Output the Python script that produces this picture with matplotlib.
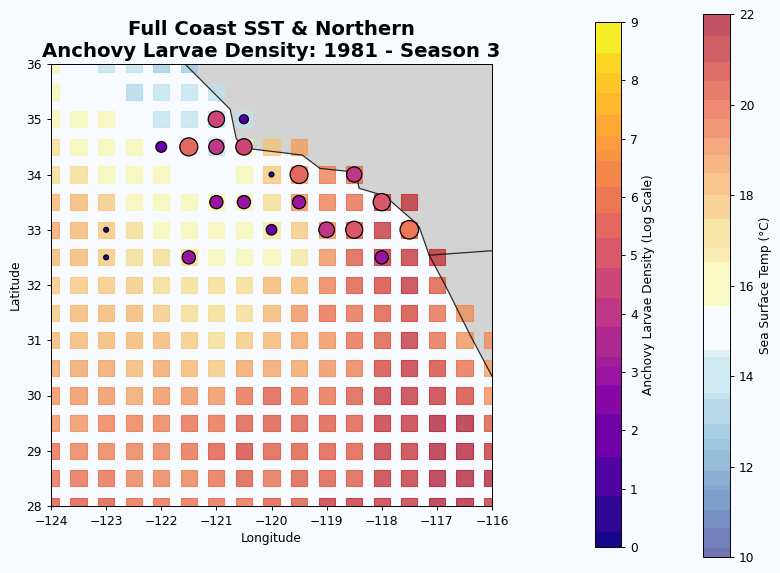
import numpy as np
from matplotlib import pyplot as plt
from matplotlib.colors import BoundaryNorm, ListedColormap

plt.rcParams['font.size'] = 8.8
plt.rcParams['axes.linewidth'] = 0.7
plt.rcParams['xtick.major.size'] = 3
plt.rcParams['ytick.major.size'] = 3
plt.rcParams['xtick.major.width'] = 0.7
plt.rcParams['ytick.major.width'] = 0.7

# grid of the survey, one cell every half degree
lons = np.arange(-124, -115.5, 0.5)
lats = np.arange(36, 27.5, -0.5)
nan = np.nan

# sea surface temperature, north to south, west to east, nan over land
sst = [
    [16.0, 15.0, 14.0, 13.8, 13.3, 13.4, nan, nan, nan, nan, nan, nan, nan, nan, nan, nan, nan],
    [16.3, 15.0, 15.0, 13.6, 13.7, 13.9, 14.2, nan, nan, nan, nan, nan, nan, nan, nan, nan, nan],
    [16.2, 16.2, 16.2, 15.0, 14.4, 14.0, 14.2, 14.2, nan, nan, nan, nan, nan, nan, nan, nan, nan],
    [17.0, 16.5, 16.3, 16.2, 15.0, 15.0, 14.3, 16.5, 17.5, 18.5, nan, nan, nan, nan, nan, nan, nan],
    [17.4, 17.4, 16.4, 16.2, 16.1, 15.0, 15.0, 16.2, 17.8, 18.8, 19.3, 19.8, nan, nan, nan, nan, nan],
    [18.0, 18.0, 17.6, 16.5, 16.3, 16.2, 16.2, 16.2, 17.2, 19.0, 19.4, 20.0, 21.0, 21.2, nan, nan, nan],
    [18.5, 18.4, 17.5, 17.0, 16.4, 16.3, 16.2, 16.2, 16.8, 17.5, 19.0, 20.5, 21.0, 20.3, nan, nan, nan],
    [18.3, 18.0, 17.6, 17.3, 17.0, 17.0, 16.5, 16.2, 16.2, 16.8, 19.0, 20.3, 21.0, 21.3, 21.2, nan, nan],
    [17.9, 17.5, 17.5, 17.6, 17.3, 17.3, 17.2, 17.2, 18.0, 18.3, 19.6, 20.3, 20.8, 21.0, 20.3, nan, nan],
    [17.9, 18.2, 18.2, 18.2, 17.9, 17.2, 17.0, 17.2, 18.2, 19.0, 19.8, 20.0, 20.3, 20.8, 19.8, 19.2, nan],
    [18.3, 18.3, 18.3, 18.3, 18.0, 17.8, 17.0, 17.8, 18.2, 18.8, 19.2, 19.7, 20.5, 21.2, 19.9, 19.2, 19.0],
    [18.8, 18.8, 18.8, 18.2, 18.5, 18.0, 17.8, 18.5, 18.7, 18.7, 18.9, 19.5, 20.9, 21.5, 20.8, 19.8, 18.8],
    [19.0, 19.0, 19.0, 18.8, 19.0, 19.0, 18.9, 19.8, 20.1, 20.0, 19.7, 20.2, 21.0, 21.5, 21.2, 20.7, 19.2],
    [19.2, 19.2, 19.3, 19.3, 19.4, 19.7, 19.9, 20.3, 20.5, 20.3, 20.2, 20.1, 21.0, 21.5, 22.0, 21.6, 20.4],
    [20.0, 19.4, 19.5, 19.3, 19.5, 19.8, 20.2, 20.6, 20.4, 20.3, 20.2, 20.4, 21.1, 21.4, 22.0, 22.0, 21.2],
    [20.0, 19.9, 19.9, 19.5, 19.5, 19.6, 19.9, 20.2, 19.8, 20.2, 20.4, 20.5, 21.0, 21.4, 22.0, 22.0, 21.8],
    [20.3, 20.4, 20.2, 20.0, 19.8, 19.7, 20.0, 20.0, 20.3, 20.3, 21.0, 21.0, 21.2, 21.3, 21.7, 22.0, 21.4],
]

# larvae stations
larvae_lon = [-121, -120.5, -122, -121.5, -121, -120.5, -120, -119.5, -118.5, -121, -120.5, -119.5,
              -118, -123, -120, -119, -118.5, -117.5, -123, -121.5, -118]
larvae_lat = [35, 35, 34.5, 34.5, 34.5, 34.5, 34, 34, 34, 33.5, 33.5, 33.5,
              33.5, 33, 33, 33, 33, 33, 32.5, 32.5, 32.5]
larvae_density = [4.6, 1.4, 2.0, 5.6, 4.0, 4.6, 0.4, 5.6, 4.0, 3.0, 3.0, 3.0,
                  5.1, 0.4, 1.9, 4.2, 5.0, 5.9, 0.4, 3.0, 3.0]

# coastline and the border running inland
coast_lon = [-121.57, -120.75, -120.64, -120.5, -120.35, -119.84, -119.44, -119.12, -118.45, -118.43,
             -118.41, -117.97, -117.85, -117.39, -117.32, -117.14, -116.85, -116.4, -116.0]
coast_lat = [36.0, 35.18, 34.65, 34.5, 34.46, 34.4, 34.35, 34.11, 34.04, 33.84,
             33.75, 33.62, 33.53, 33.13, 33.05, 32.54, 32.0, 31.1, 30.35]
border_lon = [-117.14, -116.0]
border_lat = [32.54, 32.62]

# colour steps of the two scales
sst_levels = [10, 10.2, 10.63, 11.04, 11.48, 11.6, 11.9, 12.37, 12.6, 12.95, 13.5, 13.62, 14.43, 14.58,
              15.55, 16.53, 16.82, 17.48, 18.0, 18.48, 18.88, 19.27, 19.68, 20.1, 20.53, 20.95, 21.51, 22]
density_levels = [0, 0.25, 0.87, 1.55, 2.28, 2.78, 3.09, 3.26, 3.78, 4.27, 4.78, 5.29, 5.73, 6.18,
                  6.61, 6.78, 7.04, 7.41, 7.78, 8.12, 8.47, 9]

bg = '#f7fbff'


def stepped(name, levels, vmin, vmax):
    mids = (np.array(levels[:-1]) + np.array(levels[1:])) / 2
    return plt.get_cmap(name)((mids - vmin) / (vmax - vmin))


sst_colors = stepped('RdYlBu_r', sst_levels, 10, 22)
white_idx = sst_levels.index(14.58)
sst_colors[white_idx + 1:, :3] *= [0.97, 0.97, 0.9]  # warm half a little duller than the stock map
sst_colors[white_idx] = (0.97, 0.984, 1, 1)  # band around 15 fades into the background
sst_cmap = ListedColormap(sst_colors)
sst_norm = BoundaryNorm(sst_levels, len(sst_colors), clip=True)
density_cmap = ListedColormap(stepped('plasma', density_levels, 0, 9))
density_norm = BoundaryNorm(density_levels, len(density_levels) - 1, clip=True)

W, H = 780, 573
fig = plt.figure(figsize=(W / 100, H / 100), dpi=100, facecolor=bg)
ax = fig.add_axes([51 / W, 1 - 506 / H, 441 / W, 442 / H], facecolor=bg)

# land
land_lon = coast_lon + [-116, -116, coast_lon[0]]
land_lat = coast_lat + [30.35, 36, 36]
ax.fill(land_lon, land_lat, color='lightgray', lw=0, zorder=1)

grid_lon, grid_lat = np.meshgrid(lons, lats)
sst_pts = ax.scatter(grid_lon.ravel(), grid_lat.ravel(), c=np.array(sst).ravel(), cmap=sst_cmap, norm=sst_norm,
                     s=135, marker='s', alpha=0.7, linewidths=0.8, zorder=2)

ax.plot(coast_lon, coast_lat, color='k', lw=0.9, alpha=0.8, zorder=3)
ax.plot(border_lon, border_lat, color='k', lw=0.9, alpha=0.8, zorder=3)

density_pts = ax.scatter(larvae_lon, larvae_lat, c=larvae_density, cmap=density_cmap, norm=density_norm,
                         s=np.array(larvae_density) * 30, edgecolors='k', linewidths=0.9, zorder=4)

ax.set_xlim(-124, -116)
ax.set_ylim(28, 36)
ax.set_xticks(np.arange(-124, -115, 1))
ax.set_yticks(np.arange(28, 37, 1))
ax.set_xlabel('Longitude', labelpad=3)
ax.set_ylabel('Latitude', labelpad=3)
ax.set_title('Full Coast SST & Northern\nAnchovy Larvae Density: 1981 - Season 3',
             fontsize=14.1, fontweight='bold', pad=5)

cax1 = fig.add_axes([595 / W, 1 - 547 / H, 26 / W, 525 / H])
cb1 = fig.colorbar(density_pts, cax=cax1, spacing='proportional', ticks=np.arange(0, 10, 1))
cb1.set_label('Anchovy Larvae Density (Log Scale)', labelpad=3)
cb1.minorticks_off()

cax2 = fig.add_axes([703 / W, 1 - 557 / H, 27 / W, 543 / H])
cb2 = fig.colorbar(sst_pts, cax=cax2, spacing='proportional', ticks=np.arange(10, 23, 2))
cb2.set_label('Sea Surface Temp (°C)', labelpad=3)
cb2.minorticks_off()

plt.savefig('out.png', dpi=100, facecolor=bg)
